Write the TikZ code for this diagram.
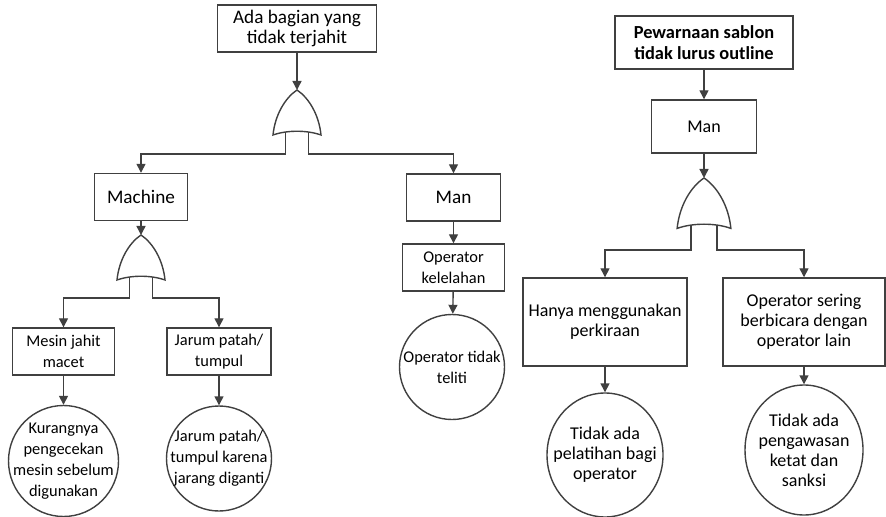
\documentclass[tikz,border=0pt]{standalone}
\usepackage{fontspec}
\setmainfont{Carlito}
\usetikzlibrary{arrows.meta,shapes.geometric}

\tikzset{
  box/.style={draw=black!75,line width=0.7pt,align=center,inner sep=0pt},
  event/.style={ellipse,draw=black!75,line width=0.7pt,align=center,inner sep=-8pt},
  bigtxt/.style={font=\fontsize{9.6}{10.4}\selectfont},
  midtxt/.style={font=\fontsize{9}{10}\selectfont},
  smalltxt/.style={font=\fontsize{8.2}{10.4}\selectfont},
  link/.style={draw=black!75,line width=0.7pt,-{Triangle[length=4.5pt,width=4.5pt]}},
  pics/orgate/.style={code={
    \draw[draw=black!75,line width=0.7pt,fill=white] (0,0) .. controls (12,8) and (22,25) .. (24,45)
      .. controls (10,40) and (-10,40) .. (-24,45) .. controls (-22,25) and (-12,8) .. cycle;
    \coordinate (-top) at (0,0);
    \coordinate (-l) at (-11.5,42);
    \coordinate (-r) at (11.5,42);
  }}
}

\begin{document}
\begin{tikzpicture}[x=0.5pt,y=-0.5pt]
  \useasboundingbox (0,0) rectangle (886,517);

  % left tree
  \node[box,bigtxt,minimum width=79.5pt,minimum height=23.5pt] (top1) at (297,28.5) {Ada bagian yang\\tidak terjahit};
  \pic (g1) at (297,90) {orgate};
  \node[box,bigtxt,minimum width=46.5pt,minimum height=23.5pt] (machine) at (141,197) {Machine};
  \node[box,bigtxt,minimum width=47pt,minimum height=23.5pt] (man1) at (453.5,197.5) {Man};
  \node[box,smalltxt,minimum width=51pt,minimum height=23.5pt] (tired) at (453.5,267.5) {Operator\\kelelahan};
  \node[event,smalltxt,minimum width=52.5pt,minimum height=52.5pt] (careless) at (452,367) {Operator tidak\\teliti};

  \pic (g2) at (141,235) {orgate};
  \node[box,smalltxt,minimum width=51pt,minimum height=23.5pt] (jammed) at (63.5,351.5) {Mesin jahit\\macet};
  \node[box,smalltxt,minimum width=52pt,minimum height=23.5pt] (needle) at (219,351.5) {Jarum patah/\\tumpul};
  \node[event,smalltxt,minimum width=55pt,minimum height=55.5pt] (nocheck) at (63.5,461) {Kurangnya\\pengecekan\\mesin sebelum\\digunakan};
  \node[event,smalltxt,minimum width=52.5pt,minimum height=52.5pt] (noreplace) at (219,458.5) {Jarum patah/\\tumpul karena\\jarang diganti};

  \draw[link] (top1.south) -- (g1-top);
  \draw[link] (g1-l) -- ++(0,22) -| (machine.north);
  \draw[link] (g1-r) -- ++(0,22) -| (man1.north);
  \draw[link] (machine) -- (g2-top);
  \draw[link] (g2-l) -- ++(0,21) -| (jammed.north);
  \draw[link] (g2-r) -- ++(0,21) -| (needle.north);
  \draw[link] (jammed) -- (nocheck);
  \draw[link] (needle) -- (noreplace);
  \draw[link] (man1) -- (tired);
  \draw[link] (tired) -- (careless);

  % right tree
  \node[box,font=\bfseries\fontsize{9.2}{10.4}\selectfont,minimum width=89pt,minimum height=26.5pt] (top2) at (704,42.5) {Pewarnaan sablon\\tidak lurus outline};
  \node[box,midtxt,minimum width=52.5pt,minimum height=26.5pt] (man2) at (704,126.5) {Man};
  \pic[scale=1.12] (g3) at (704,178) {orgate};
  \node[box,midtxt,minimum width=82pt,minimum height=44pt] (guess) at (605,322) {Hanya menggunakan\\perkiraan};
  \node[box,midtxt,minimum width=81pt,minimum height=44pt] (chatty) at (804,322) {Operator sering\\berbicara dengan\\operator lain};
  \node[event,midtxt,minimum width=58pt,minimum height=62pt] (notrain) at (605,455) {Tidak ada\\pelatihan bagi\\operator};
  \node[event,midtxt,minimum width=59pt,minimum height=65pt] (nosuper) at (804,450) {Tidak ada\\pengawasan\\ketat dan\\sanksi};

  \draw[link] (top2) -- (man2);
  \draw[link] (man2) -- (g3-top);
  \draw[link] (g3-l) -- ++(0,25) -| (guess.north);
  \draw[link] (g3-r) -- ++(0,25) -| (chatty.north);
  \draw[link] (guess) -- (notrain);
  \draw[link] (chatty) -- (nosuper);
\end{tikzpicture}
\end{document}
